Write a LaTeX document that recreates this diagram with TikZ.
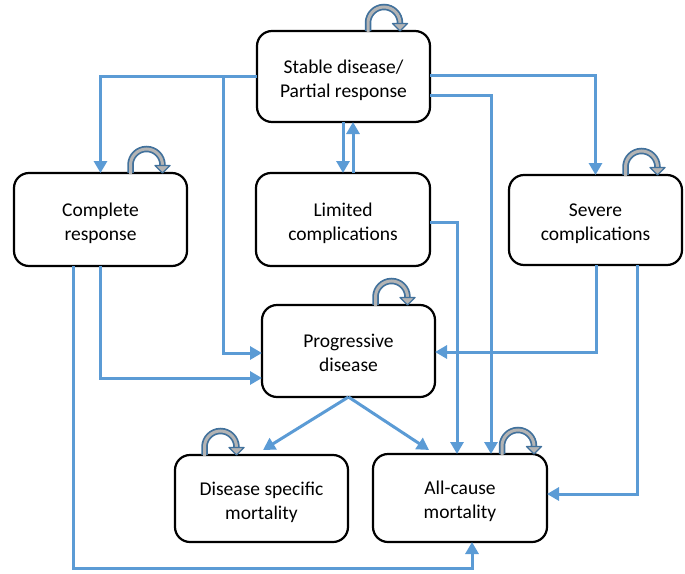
\documentclass[tikz,border=0pt]{standalone}
\usepackage{fontspec}
\setmainfont{Carlito}
\usetikzlibrary{arrows.meta,calc}
\definecolor{connblue}{HTML}{5B9BD5}
\definecolor{loopdark}{HTML}{41719C}
\definecolor{loopgray}{HTML}{B4B4B4}
\newcommand{\btext}[1]{\raisebox{-3.7pt}[\height][\depth]{\begin{tabular}{@{}c@{}}#1\end{tabular}}}
\tikzset{
  box/.style={draw=black,line width=2.2pt,rounded corners=15pt,fill=white,
    inner sep=0pt,outer sep=0pt,font=\fontsize{19.5}{24}\selectfont},
  conn/.style={draw=connblue,line width=3pt,-{Triangle[length=12pt,width=13pt]}},
}
\newcommand{\selfloop}[1]{%
  \begin{scope}[shift={(#1)}]
    \draw[loopdark,line width=6.5pt] (0pt,0pt) -- (0pt,8pt) arc[start angle=180,end angle=0,radius=16pt] -- (32pt,6pt);
    \draw[loopgray,line width=3pt] (0pt,-1pt) -- (0pt,8pt) arc[start angle=180,end angle=0,radius=16pt] -- (32pt,6pt);
    \filldraw[fill=loopgray,draw=loopdark,line width=1.3pt,line join=round] (24.5pt,7.5pt) -- (39.5pt,7.5pt) -- (32pt,0pt) -- cycle;
  \end{scope}}
\begin{document}
\begin{tikzpicture}[x=1pt,y=-1pt]
\useasboundingbox (0,0) rectangle (685,573);
% boxes
\node[box,minimum width=173pt,minimum height=91pt] (SD) at (343.5,76.5) {\btext{Stable disease/\\Partial response}};
\node[box,minimum width=173pt,minimum height=93pt] (CR) at (100.5,219.5) {\btext{Complete\\response}};
\node[box,minimum width=174pt,minimum height=93pt] (LC) at (343,219.5) {\btext{Limited\\complications}};
\node[box,minimum width=173pt,minimum height=90pt] (SC) at (595.5,220) {\btext{Severe\\complications}};
\node[box,minimum width=173pt,minimum height=92pt] (PD) at (348.5,351) {\btext{Progressive\\disease}};
\node[box,minimum width=173pt,minimum height=87pt] (DSM) at (261.5,498.5) {\btext{Disease specific\\mortality}};
\node[box,minimum width=174pt,minimum height=88pt] (ACM) at (460,498) {\btext{All-cause\\mortality}};
% helper coordinates
\coordinate (a1) at (100,76);
\coordinate (b1) at (223,76);
\coordinate (b2) at (223,353);
\coordinate (c1) at (596,75);
\coordinate (d1) at (491,95);
\coordinate (e1) at (457,222);
\coordinate (f1) at (343,0);
\coordinate (f2) at (353,0);
\coordinate (g1) at (596,352);
\coordinate (h1) at (637,494);
\coordinate (i1) at (100,378);
\coordinate (j1) at (73,568);
\coordinate (j2) at (472,568);
\coordinate (k1) at (263,450);
\coordinate (k2) at (429,450);
% connectors
\draw[conn] (SD.west |- a1) -| (CR.north);
\draw[conn] (SD.west |- b1) -- (b1) -- (b2) -- (PD.west |- b2);
\draw[conn] (SD.east |- c1) -| (SC.north);
\draw[conn] (SD.east |- d1) -- (d1) -- (ACM.north -| d1);
\draw[conn] (LC.east |- e1) -- (e1) -- (ACM.north -| e1);
\draw[conn] (SD.south -| f1) -- (LC.north -| f1);
\draw[conn] (LC.north -| f2) -- (SD.south -| f2);
\draw[conn] (SC.south -| g1) -- (g1) -- (PD.east |- g1);
\draw[conn] (SC.south -| h1) -- (h1) -- (ACM.east |- h1);
\draw[conn] (CR.south -| i1) -- (i1) -- (PD.west |- i1);
\draw[conn] (CR.south -| j1) -- (j1) -- (j2) -- (ACM.south -| j2);
\draw[conn] (PD.south) -- (k1);
\draw[conn] (PD.south) -- (k2);
% self loops
\selfloop{$(SD.north)+(24.5,0)$}
\selfloop{$(CR.north)+(30,0)$}
\selfloop{$(SC.north)+(30,0)$}
\selfloop{$(PD.north)+(27,0)$}
\selfloop{$(DSM.north)+(-57,0)$}
\selfloop{$(ACM.north)+(42,0)$}
\end{tikzpicture}
\end{document}
